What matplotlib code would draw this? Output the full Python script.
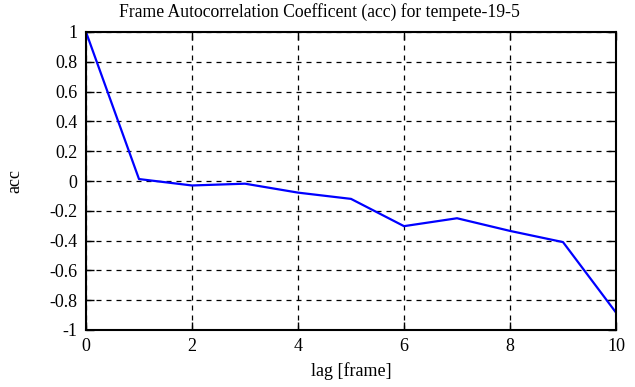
import matplotlib
matplotlib.use("Agg")
import matplotlib.pyplot as plt

lags = [0, 1, 2, 3, 4, 5, 6, 7, 8, 9, 10]
acc = [1.0, 0.013, -0.03, -0.018, -0.078, -0.12, -0.303, -0.25, -0.335, -0.41, -0.883]
xticks = [0, 2, 4, 6, 8, 10]
yticks = [1, 0.8, 0.6, 0.4, 0.2, 0, -0.2, -0.4, -0.6, -0.8, -1]
ylabels = ["1", "0.8", "0.6", "0.4", "0.2", "0", "-0.2", "-0.4", "-0.6", "-0.8", "-1"]

plt.rcParams['font.family'] = ['Liberation Serif', 'DejaVu Serif']
fig = plt.figure(figsize=(6.35, 3.87), dpi=100)
ax = fig.add_axes([86/635, 1 - 330/387, (616-86)/635, (330-32)/387])
ax.plot(lags, acc, color='#0000ff', lw=1.6)
ax.set_xlim(0, 10)
ax.set_ylim(-1, 1)
ax.set_xticks(xticks)
ax.set_yticks(yticks)
ax.set_yticklabels(ylabels)
ax.grid(True, color='black', linestyle=(0, (4, 4)), lw=0.9)
ax.tick_params(direction='in', top=True, right=True, length=6, width=1, labelsize=13, pad=6)
for s in ax.spines.values():
    s.set_linewidth(1.5)
fig.text(319/635, 1 - 12/387, "Frame Autocorrelation Coefficent (acc) for tempete-19-5",
         fontsize=12.7, ha='center', va='center')
ax.set_xlabel("lag [frame]", fontsize=13, labelpad=5)
ax.set_ylabel("acc", fontsize=13, va='center')
ax.yaxis.set_label_coords((15 - 86) / 530, 0.5)
fig.savefig("out.png", dpi=100)
